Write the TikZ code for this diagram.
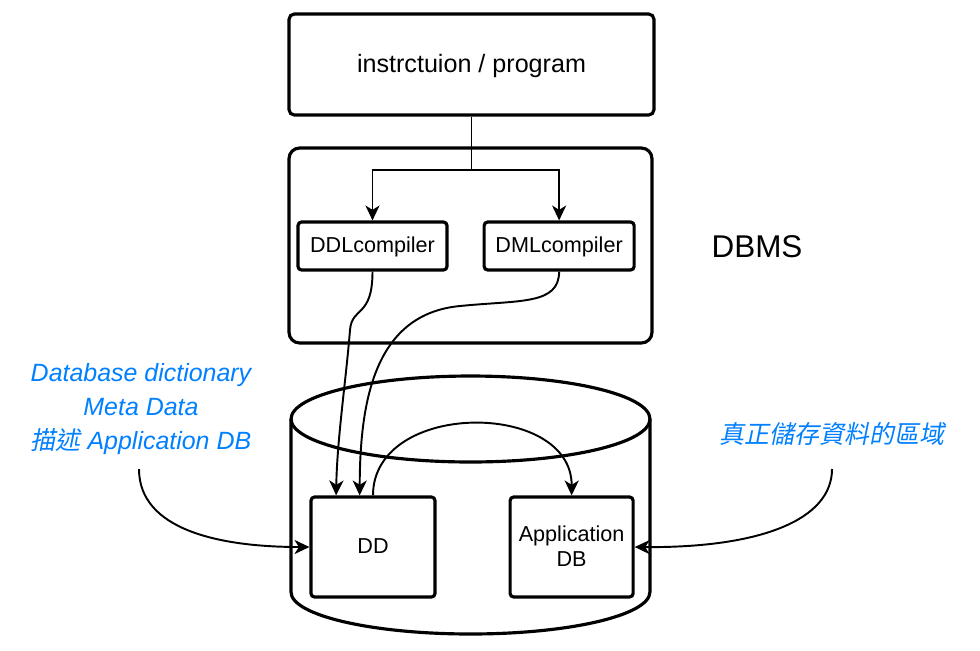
\documentclass[tikz,border=0pt]{standalone}
\usepackage{fontspec}
\setmainfont{Liberation Sans}
\newfontfamily\cjk[FakeSlant=0.2]{Noto Sans CJK TC}
\usetikzlibrary{positioning,arrows.meta,calc}
\definecolor{noteblue}{RGB}{0,127,255}
\tikzset{
	box/.style={draw, line width=1.8pt, fill=white, rounded corners=2pt, align=center, inner sep=0pt, text depth=1pt},
	flow/.style={line width=1.1pt, -{Stealth[length=8.5pt,width=8pt,inset=2.5pt]}},
	wire/.style={line width=1.1pt},
	note/.style={text=noteblue, font=\fontsize{14.2}{19.3}\selectfont\itshape, align=center},
}

\begin{document}
\begin{tikzpicture}[x=0.02cm, y=-0.02cm]
	\useasboundingbox (0,0) rectangle (980,650);
	\def\big{\fontsize{14.3}{17}\selectfont}
	\def\sm{\fontsize{12.3}{14.7}\selectfont}

	\node[box, minimum width=7.3cm, minimum height=2.02cm, rounded corners=3pt, font=\big] (top) at (471.5,64.5) {instrctuion / program};
	\node[box, minimum width=7.26cm, minimum height=3.9cm, rounded corners=6pt] (dbms) at (470.5,245.5) {};
	\node[box, minimum width=2.98cm, minimum height=0.96cm, font=\sm] (ddl) at (372.5,246) {DDLcompiler};
	\node[box, minimum width=3cm, minimum height=0.96cm, font=\sm, right=0.68cm of ddl] (dml) {DMLcompiler};
	\node[font=\fontsize{17.9}{21}\selectfont] (dbmslbl) at (757,247) {DBMS};

	\draw[line width=1.8pt] (470.5,419) ellipse [x radius=3.59cm, y radius=0.86cm];
	\draw[line width=1.8pt] (291,419) -- (291,592) arc[start angle=180, end angle=360, x radius=3.59cm, y radius=0.84cm] -- (650,419);

	\node[box, minimum width=2.48cm, minimum height=2cm, font=\sm] (dd) at (373,547) {DD};
	\node[box, minimum width=2.46cm, minimum height=2cm, font=\sm, align=center, right=1.44cm of dd] (app) {Application\\DB};

	\path (top.south) ++(0,53) coordinate (split);
	\path (dd.north west) -- (dd.north east) coordinate[pos=0.21] (dd1) coordinate[pos=0.395] (dd2);

	\node[note] (dictlbl) at (141,409) {Database dictionary\\Meta Data\\{\cjk\upshape 描述} Application DB};
	\node[note] (storelbl) at (832,434) {\cjk\upshape 真正儲存資料的區域};
	\coordinate (dictfoot) at (139,469);
	\coordinate (storefoot) at (832,469);

	\draw[wire] (top.south) -- (split);
	\draw[flow] (split) -| (ddl.north);
	\draw[flow] (split) -| (dml.north);
	\draw[flow] (ddl.south) .. controls (372.5,318) and (352,306) .. (350,330) .. controls (346,380) and (337,440) .. (dd1);
	\draw[flow] (dml.south) .. controls (559,305) and (520,300) .. (460,306) .. controls (375,314) and (360,400) .. (dd2);
	\draw[flow] (dd.north) .. controls (373,400) and (572,400) .. (app.north);
	\draw[flow] (dictfoot) .. controls (139,530) and (220,547) .. (dd.west);
	\draw[flow] (storefoot) .. controls (832,520) and (760,548) .. (app.east);
\end{tikzpicture}
\end{document}
